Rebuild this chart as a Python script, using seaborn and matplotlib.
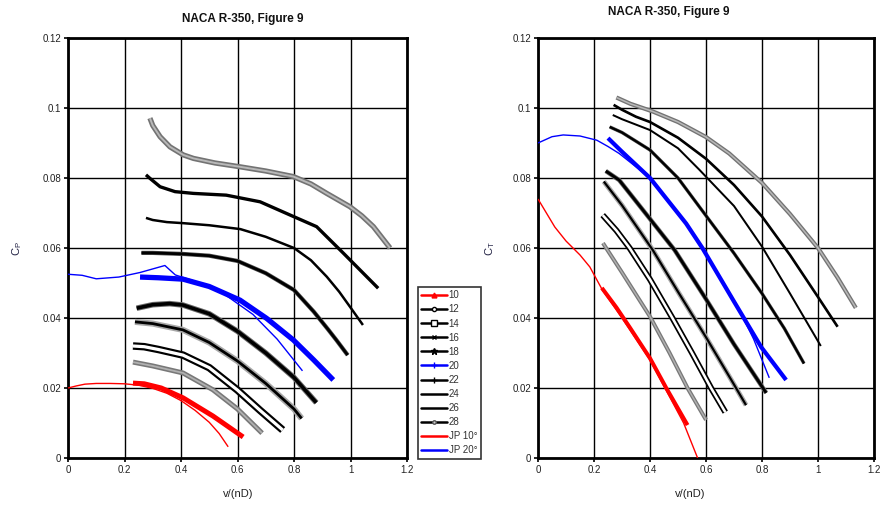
import matplotlib
matplotlib.use("Agg")
import numpy as np
import pandas as pd
import matplotlib.pyplot as plt
import matplotlib.patheffects as pe
from matplotlib.lines import Line2D
import seaborn as sns

# ---------------- data ----------------
series_names = ["10", "12", "14", "16", "18", "20", "22", "24", "26", "28", "JP 10°", "JP 20°"]

# Left panel: power coefficient Cp vs v/(nD)
cp10_x = [0.23, 0.27, 0.33, 0.407, 0.513, 0.62]
cp10_y = [0.0214, 0.0212, 0.0200, 0.0172, 0.0120, 0.0060]
cp12_x = [0.23, 0.30, 0.407, 0.513, 0.60, 0.687]
cp12_y = [0.0274, 0.0263, 0.0243, 0.0195, 0.0140, 0.0071]
cp14_x = [0.23, 0.27, 0.32, 0.407, 0.50, 0.60, 0.68, 0.76]
cp14_y = [0.0320, 0.0318, 0.0310, 0.0294, 0.0258, 0.0194, 0.0136, 0.0080]
cp16_x = [0.237, 0.30, 0.407, 0.50, 0.60, 0.70, 0.80, 0.827]
cp16_y = [0.0389, 0.0384, 0.0366, 0.0330, 0.0277, 0.0213, 0.0140, 0.0113]
cp18_x = [0.243, 0.30, 0.36, 0.407, 0.50, 0.60, 0.70, 0.80, 0.879]
cp18_y = [0.0428, 0.0438, 0.0441, 0.0437, 0.0412, 0.0362, 0.0300, 0.0230, 0.0158]
cp20_x = [0.255, 0.32, 0.407, 0.50, 0.609, 0.703, 0.798, 0.87, 0.939]
cp20_y = [0.0517, 0.0515, 0.0511, 0.0490, 0.0451, 0.0399, 0.0337, 0.0280, 0.0223]
cp22_x = [0.26, 0.30, 0.407, 0.50, 0.60, 0.70, 0.80, 0.87, 0.92, 0.95, 0.99]
cp22_y = [0.0586, 0.0586, 0.0583, 0.0578, 0.0563, 0.0528, 0.0480, 0.0418, 0.0368, 0.0337, 0.0294]
cp24_x = [0.276, 0.30, 0.35, 0.407, 0.50, 0.61, 0.70, 0.80, 0.86, 0.916, 0.96, 1.00, 1.044]
cp24_y = [0.0686, 0.0680, 0.0674, 0.0671, 0.0665, 0.0654, 0.0632, 0.0600, 0.0565, 0.0518, 0.0475, 0.0430, 0.0380]
cp26_x = [0.276, 0.290, 0.326, 0.379, 0.444, 0.56, 0.68, 0.798, 0.88, 0.975, 1.034, 1.098]
cp26_y = [0.0809, 0.0799, 0.0775, 0.0761, 0.0756, 0.0751, 0.0732, 0.0690, 0.0661, 0.0585, 0.0537, 0.0485]
cp28_x = [0.29, 0.30, 0.326, 0.361, 0.408, 0.444, 0.52, 0.609, 0.70, 0.798, 0.86, 0.916, 0.998, 1.04, 1.081, 1.14]
cp28_y = [0.0971, 0.0950, 0.0918, 0.0889, 0.0866, 0.0856, 0.0843, 0.0832, 0.0820, 0.0804, 0.0783, 0.0756, 0.0718, 0.0692, 0.0661, 0.0600]
cpjp10_x = [0.0, 0.03, 0.06, 0.10, 0.15, 0.20, 0.25, 0.30, 0.35, 0.40, 0.45, 0.50, 0.535, 0.567]
cpjp10_y = [0.0200, 0.0206, 0.0211, 0.0213, 0.0213, 0.0212, 0.0208, 0.0199, 0.0185, 0.0164, 0.0136, 0.0102, 0.0070, 0.0032]
cpjp20_x = [0.0, 0.05, 0.10, 0.18, 0.255, 0.343, 0.38, 0.45, 0.55, 0.655, 0.74, 0.83]
cpjp20_y = [0.0525, 0.0522, 0.0512, 0.0517, 0.0530, 0.0550, 0.0523, 0.0505, 0.0470, 0.0410, 0.0340, 0.0249]

# Right panel: thrust coefficient CT vs v/(nD)
ct10_x = [0.228, 0.28, 0.327, 0.40, 0.458, 0.534]
ct10_y = [0.0486, 0.0430, 0.0374, 0.0285, 0.0200, 0.0094]
ct12_x = [0.232, 0.30, 0.40, 0.47, 0.534, 0.60]
ct12_y = [0.0614, 0.0530, 0.0404, 0.0300, 0.0200, 0.0109]
ct14_x = [0.231, 0.28, 0.327, 0.40, 0.48, 0.55, 0.618, 0.669]
ct14_y = [0.0694, 0.0650, 0.0600, 0.0510, 0.0400, 0.0300, 0.0200, 0.0131]
ct16_x = [0.235, 0.30, 0.41, 0.50, 0.60, 0.70, 0.743]
ct16_y = [0.0790, 0.0722, 0.0594, 0.0475, 0.0345, 0.0210, 0.0151]
ct18_x = [0.242, 0.29, 0.40, 0.488, 0.60, 0.70, 0.815]
ct18_y = [0.0820, 0.0794, 0.0683, 0.0594, 0.0454, 0.0325, 0.0186]
ct20_x = [0.25, 0.30, 0.40, 0.529, 0.587, 0.70, 0.797, 0.886]
ct20_y = [0.0914, 0.0875, 0.0800, 0.0670, 0.0600, 0.0447, 0.0317, 0.0223]
ct22_x = [0.256, 0.30, 0.40, 0.50, 0.577, 0.70, 0.80, 0.88, 0.95]
ct22_y = [0.0946, 0.0930, 0.0880, 0.0800, 0.0717, 0.0585, 0.0470, 0.0370, 0.0270]
ct24_x = [0.267, 0.30, 0.40, 0.50, 0.577, 0.70, 0.80, 0.90, 1.01]
ct24_y = [0.0980, 0.0968, 0.0937, 0.0885, 0.0823, 0.0720, 0.0604, 0.0470, 0.0320]
ct26_x = [0.27, 0.30, 0.35, 0.40, 0.50, 0.60, 0.70, 0.80, 0.90, 1.00, 1.07]
ct26_y = [0.1009, 0.0995, 0.0975, 0.0960, 0.0915, 0.0855, 0.0780, 0.0690, 0.0580, 0.0460, 0.0375]
ct28_x = [0.28, 0.33, 0.41, 0.50, 0.60, 0.683, 0.80, 0.90, 1.00, 1.07, 1.135]
ct28_y = [0.1030, 0.1012, 0.0990, 0.0960, 0.0917, 0.0870, 0.0786, 0.0697, 0.0600, 0.0515, 0.0429]
ctjp10_x = [0.0, 0.03, 0.06, 0.10, 0.15, 0.185, 0.23, 0.30, 0.40, 0.46, 0.52, 0.57]
ctjp10_y = [0.0740, 0.0700, 0.0660, 0.0620, 0.0580, 0.0546, 0.0480, 0.0400, 0.0280, 0.0190, 0.0100, 0.0000]
ctjp20_x = [0.0, 0.05, 0.09, 0.15, 0.21, 0.25, 0.29, 0.40, 0.529, 0.587, 0.708, 0.77, 0.826]
ctjp20_y = [0.0900, 0.0918, 0.0923, 0.0920, 0.0908, 0.0890, 0.0870, 0.0800, 0.0670, 0.0600, 0.0440, 0.0340, 0.0229]

x_ticks = [0, 0.2, 0.4, 0.6, 0.8, 1.0, 1.2]
x_tick_labels = ["0", "0.2", "0.4", "0.6", "0.8", "1", "1.2"]
y_ticks = [0, 0.02, 0.04, 0.06, 0.08, 0.10, 0.12]
y_tick_labels = ["0", "0.02", "0.04", "0.06", "0.08", "0.1", "0.12"]
title_text = "NACA R-350, Figure 9"

left_xy = [(cp10_x, cp10_y), (cp12_x, cp12_y), (cp14_x, cp14_y), (cp16_x, cp16_y),
           (cp18_x, cp18_y), (cp20_x, cp20_y), (cp22_x, cp22_y), (cp24_x, cp24_y),
           (cp26_x, cp26_y), (cp28_x, cp28_y), (cpjp10_x, cpjp10_y), (cpjp20_x, cpjp20_y)]
right_xy = [(ct10_x, ct10_y), (ct12_x, ct12_y), (ct14_x, ct14_y), (ct16_x, ct16_y),
            (ct18_x, ct18_y), (ct20_x, ct20_y), (ct22_x, ct22_y), (ct24_x, ct24_y),
            (ct26_x, ct26_y), (ct28_x, ct28_y), (ctjp10_x, ctjp10_y), (ctjp20_x, ctjp20_y)]


def to_frame(pairs):
    frames = []
    for name, (xs, ys) in zip(series_names, pairs):
        frames.append(pd.DataFrame({"v": xs, "c": ys, "series": name}))
    return pd.concat(frames, ignore_index=True)


df_left = to_frame(left_xy)
df_right = to_frame(right_xy)

# ---------------- styles ----------------
RED = "#ff0000"
BLUE = "#0000ff"


def style_for(name, s):
    if name == "10":
        return dict(color=RED, lw=3.6 * s)
    if name == "12":
        return dict(color="#b0b0b0", lw=1.3 * s,
                    path_effects=[pe.Stroke(linewidth=3.6 * s, foreground="#787878"), pe.Normal()])
    if name == "14":
        return dict(color="white", lw=2.3 * s,
                    path_effects=[pe.Stroke(linewidth=5.4 * s, foreground="black"), pe.Normal()])
    if name == "16":
        return dict(color="black", lw=2.0 * s,
                    path_effects=[pe.Stroke(linewidth=4.4 * s, foreground="#a8a8a8"), pe.Normal()])
    if name == "18":
        return dict(color="black", lw=2.6 * s,
                    path_effects=[pe.Stroke(linewidth=4.0 * s, foreground="#6a6a6a"), pe.Normal()])
    if name == "20":
        return dict(color=BLUE, lw=3.8 * s)
    if name == "22":
        return dict(color="black", lw=2.0 * s,
                    path_effects=[pe.Stroke(linewidth=3.0 * s, foreground="#505050"), pe.Normal()])
    if name == "24":
        return dict(color="black", lw=1.8 * s)
    if name == "26":
        return dict(color="black", lw=2.4 * s)
    if name == "28":
        return dict(color="#b8b8b8", lw=1.4 * s,
                    path_effects=[pe.Stroke(linewidth=3.8 * s, foreground="#737373"), pe.Normal()])
    if name == "JP 10°":
        return dict(color=RED, lw=1.0)
    if name == "JP 20°":
        return dict(color=BLUE, lw=1.0)


sns.set_theme(style="white")
plt.rcParams["font.family"] = ["Liberation Sans", "DejaVu Sans"]
plt.rcParams["mathtext.fontset"] = "custom"
plt.rcParams["mathtext.rm"] = "Liberation Sans"

fig = plt.figure(figsize=(8.86, 5.09), dpi=100)
W, H = 886.0, 509.0
ax_l = fig.add_axes([68 / W, 1 - 458 / H, (407 - 68) / W, (458 - 38) / H])
ax_r = fig.add_axes([538 / W, 1 - 458 / H, (874 - 538) / W, (458 - 38) / H])

for ax, df, scale in [(ax_l, df_left, 1.0), (ax_r, df_right, 0.8)]:
    for name in series_names:
        sub = df[df["series"] == name]
        kw = style_for(name, scale)
        sns.lineplot(data=sub, x="v", y="c", ax=ax, sort=False, estimator=None,
                     legend=False, solid_capstyle="butt", solid_joinstyle="round",
                     zorder=3, **kw)
    ax.set_xlim(0, 1.2)
    ax.set_ylim(0, 0.12)
    ax.set_xticks(x_ticks)
    ax.set_xticklabels(x_tick_labels)
    ax.set_yticks(y_ticks)
    ax.set_yticklabels(y_tick_labels)
    ax.set_xlabel("")
    ax.set_ylabel("")
    ax.grid(True, color="black", lw=1.0, zorder=1)
    ax.set_axisbelow(True)
    for sp in ax.spines.values():
        sp.set_color("black")
        sp.set_linewidth(2.0)
    ax.tick_params(axis="both", which="both", bottom=True, left=True, direction="out",
                   length=3, width=1.2, color="black", labelsize=7, labelcolor="#222222", pad=2)

# titles, axis labels
fig.text(243 / W, 1 - 19 / H, title_text, ha="center", va="center",
         fontsize=8.5, fontweight="bold", color="#111111")
fig.text(669 / W, 1 - 12 / H, title_text, ha="center", va="center",
         fontsize=8.5, fontweight="bold", color="#111111")
fig.text(17 / W, 1 - 249 / H, r"C$_\mathregular{P}$", rotation=90, ha="center", va="center",
         fontsize=8, color="#222244")
fig.text(490 / W, 1 - 249 / H, r"C$_\mathregular{T}$", rotation=90, ha="center", va="center",
         fontsize=8, color="#222244")
fig.text(238 / W, 1 - 494 / H, "v/(nD)", ha="center", va="center", fontsize=8, color="#222222")
fig.text(690 / W, 1 - 494 / H, "v/(nD)", ha="center", va="center", fontsize=8, color="#222222")

# legend
leg_markers = {
    "10": dict(color=RED, marker="^", ms=3.5, mfc=RED, mec=RED),
    "12": dict(color="black", marker="o", ms=3, mfc="white", mec="black"),
    "14": dict(color="black", marker="s", ms=4, mfc="white", mec="black"),
    "16": dict(color="black", marker="x", ms=3.5, mec="black"),
    "18": dict(color="black", marker="*", ms=4.5, mfc="black", mec="black"),
    "20": dict(color=BLUE, marker="+", ms=4, mec=BLUE),
    "22": dict(color="black", marker="+", ms=4, mec="black"),
    "24": dict(color="black"),
    "26": dict(color="black"),
    "28": dict(color="black", marker="o", ms=2.5, mfc="#cccccc", mec="#555555"),
    "JP 10°": dict(color=RED),
    "JP 20°": dict(color=BLUE),
}
handles = [Line2D([0], [0], lw=1.8, **leg_markers[n]) for n in series_names]
leg = fig.legend(handles, series_names, loc="upper left",
                 bbox_to_anchor=(418 / W, 1 - 287 / H), frameon=True, fancybox=False,
                 edgecolor="black", fontsize=7, handlelength=2.6, handletextpad=0.2,
                 labelspacing=0.42, borderpad=0.35, borderaxespad=0.0)
leg.get_frame().set_linewidth(1.2)
for t in leg.get_texts():
    t.set_color("#333333")

fig.savefig("out.png", dpi=100)
